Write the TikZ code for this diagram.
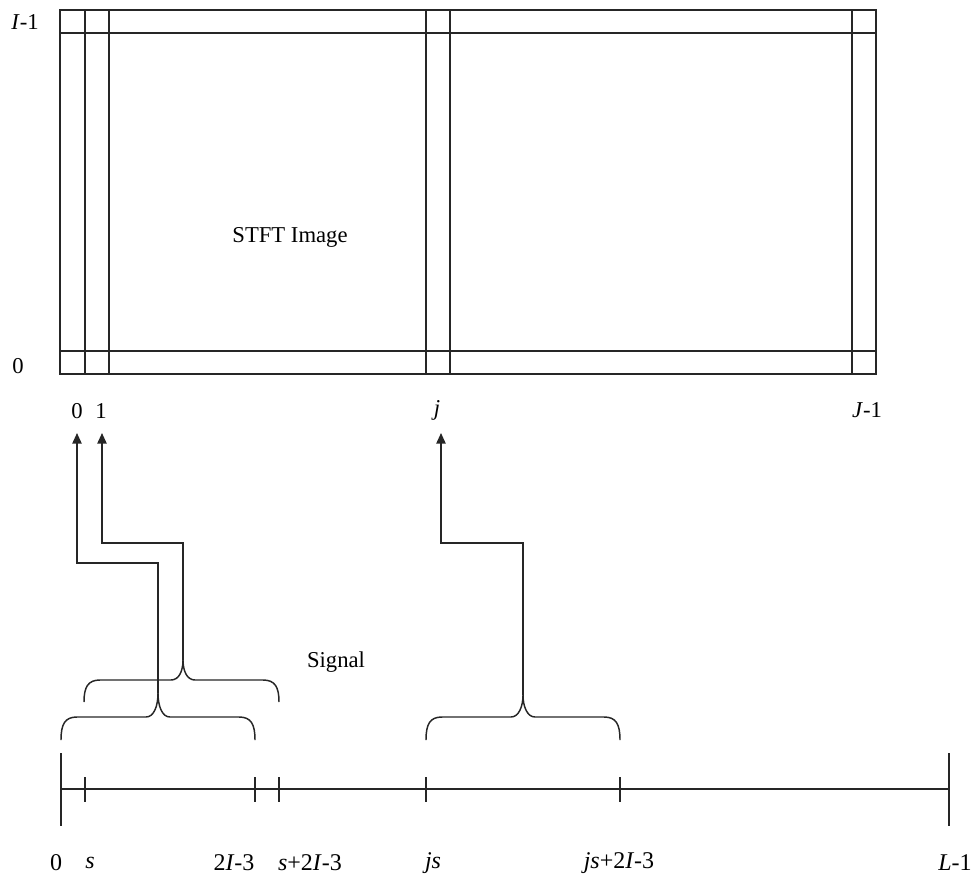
\documentclass[tikz,border=0pt]{standalone}
\usepackage{fontspec}
\setmainfont{Liberation Serif}
\usetikzlibrary{arrows.meta}
\begin{document}
\begin{tikzpicture}[x=0.75pt,y=-0.75pt,
  ln/.style={line width=1.1pt, draw=black!85},
  lbl/.style={font=\fontsize{17}{19}\selectfont, inner sep=0pt},
  axl/.style={font=\fontsize{18}{20}\selectfont, inner sep=0pt},
  big/.style={font=\fontsize{17}{20}\selectfont, inner sep=0pt},
  arr/.style={ln, -{Triangle[length=8pt,width=7pt]}}]
\useasboundingbox (0,0) rectangle (974,879);
% STFT grid
\draw[ln] (60,10) rectangle (876,374);
\foreach \x in {85,109,426,450,852} \draw[ln] (\x,10) -- (\x,374);
\foreach \y in {33,351} \draw[ln] (60,\y) -- (876,\y);
\node[big] (title) at (290,237) {STFT Image};
\node[lbl] (rowtop) at (25,22) {\textit{I}-1};
\node[lbl] (rowbot) at (18,366) {0};
\node[lbl] (c0) at (77,411) {0};
\node[lbl] (c1) at (101,411) {1};
\node[lbl] (cj) at (437,410) {\textit{j}};
\node[lbl] (cJ) at (867,410) {\textit{J}-1};
% arrow tips
\coordinate (a0) at (77,433);
\coordinate (a1) at (102,433);
\coordinate (aj) at (441,433);
% braces
\coordinate (b0) at (158,693);
\coordinate (b1) at (183,660);
\coordinate (bj) at (523,695);
\draw[ln] (61,740) .. controls (61,724) and (65,717) .. (77,717) -- (146,717)
  .. controls (154,717) and (158,706) .. (b0)
  .. controls (158,706) and (162,717) .. (170,717) -- (239,717)
  .. controls (251,717) and (255,724) .. (255,740);
\draw[ln] (84,702) .. controls (84,687) and (88,680) .. (100,680) -- (171,680)
  .. controls (179,680) and (183,671) .. (b1)
  .. controls (183,671) and (187,680) .. (195,680) -- (263,680)
  .. controls (275,680) and (279,687) .. (279,702);
\draw[ln] (426,740) .. controls (426,724) and (430,717) .. (442,717) -- (511,717)
  .. controls (519,717) and (523,706) .. (bj)
  .. controls (523,706) and (527,717) .. (535,717) -- (604,717)
  .. controls (616,717) and (620,724) .. (620,740);
% connectors
\draw[arr] (b0) -- (158,563) -| (a0);
\draw[arr] (b1) -- (183,543) -| (a1);
\draw[arr] (bj) -- (523,543) -| (aj);
\node[big] (signal) at (336,662) {Signal};
% signal axis
\draw[ln] (61,789) -- (949,789);
\draw[ln] (61,753) -- (61,826);
\draw[ln] (949,753) -- (949,826);
\foreach \x in {85,255,279,426,620} \draw[ln] (\x,777) -- (\x,802);
\node[axl] (l0) at (56,863) {0};
\node[axl] (ls) at (90,863) {\textit{s}};
\node[axl] (l2) at (234,863) {2\textit{I}-3};
\node[axl] (l3) at (310,863) {\textit{s}+2\textit{I}-3};
\node[axl] (l4) at (433,863) {\textit{js}};
\node[axl] (l5) at (619,863) {\textit{js}+2\textit{I}-3};
\node[axl] (l6) at (955,863) {\textit{L}-1};
\end{tikzpicture}
\end{document}
